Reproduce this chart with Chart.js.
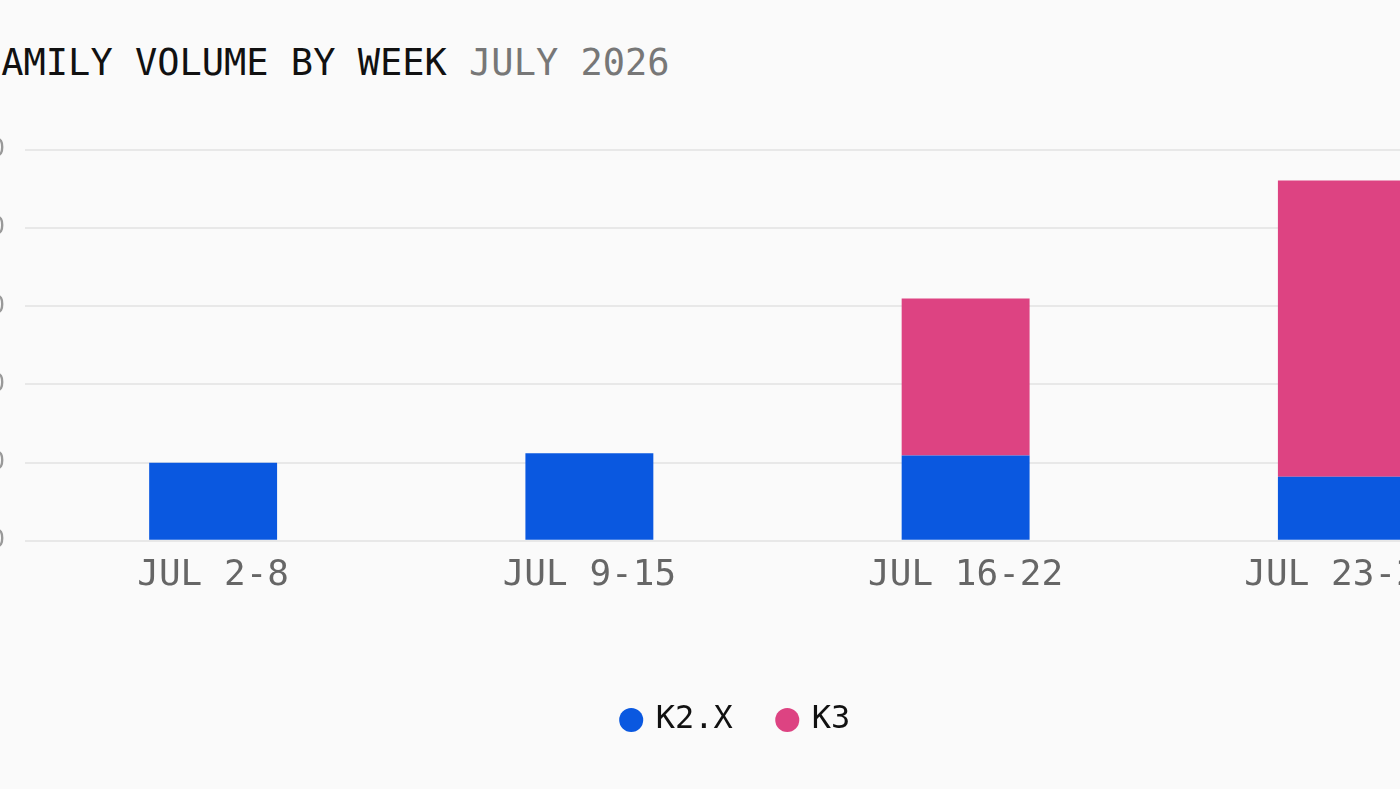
<!DOCTYPE html>
<html>
<head>
<meta charset="utf-8">
<script src="https://cdn.jsdelivr.net/npm/chart.js@4"></script>
<style>
  html, body { margin: 0; padding: 0; background: #fafafa; overflow: hidden; }
  body { width: 1400px; height: 789px; position: relative; }
  .title {
    position: absolute; left: -21px; top: 44px;
    font-family: "DejaVu Sans Mono", monospace; font-size: 37px; line-height: 1;
    color: #111; white-space: nowrap;
  }
  .title span { color: #777; }
  .wrap { position: absolute; left: -57px; top: 110px; width: 1594px; height: 636px; }
</style>
</head>
<body>
<div class="title">FAMILY VOLUME BY WEEK <span>JULY 2026</span></div>
<div class="wrap"><canvas id="chart"></canvas></div>
<script>
// weekly volumes
const weeks = ['JUL 2-8', 'JUL 9-15', 'JUL 16-22', 'JUL 23-29'];
const k2x = [100, 112, 109, 82];
const k3 = [0, 0, 201, 379];
const yTicks = [0, 100, 200, 300, 400, 500];

const mono = '"DejaVu Sans Mono", monospace';

new Chart(document.getElementById('chart'), {
    type: 'bar',
    data: {
        labels: weeks,
        datasets: [
            { label: 'K2.X', data: k2x, backgroundColor: '#0a58e0' },
            { label: 'K3', data: k3, backgroundColor: '#dd4382' }
        ]
    },
    options: {
        responsive: true,
        maintainAspectRatio: false,
        animation: false,
        layout: { padding: { top: 40, right: 7, left: 0, bottom: 0 } },
        datasets: { bar: { categoryPercentage: 1, barPercentage: 0.34 } },
        scales: {
            x: {
                stacked: true,
                grid: { display: false },
                border: { display: false },
                ticks: { color: '#666', padding: 5, font: { family: mono, size: 36 } },
                afterFit: s => { s.height += 56; }
            },
            y: {
                stacked: true,
                min: yTicks[0],
                max: yTicks[yTicks.length - 1],
                grid: { color: '#e8e8e8', lineWidth: 2, drawTicks: false },
                border: { display: false },
                ticks: { stepSize: 100, color: '#999', padding: 20, font: { family: mono, size: 24 } },
                afterFit: s => { s.width = 82; }
            }
        },
        plugins: {
            title: { display: false },
            tooltip: { enabled: false },
            legend: {
                position: 'bottom',
                labels: {
                    usePointStyle: true,
                    pointStyle: 'circle',
                    boxWidth: 17,
                    boxHeight: 17,
                    padding: 46,
                    color: '#111',
                    font: { family: mono, size: 32 }
                }
            }
        }
    }
});
</script>
</body>
</html>
